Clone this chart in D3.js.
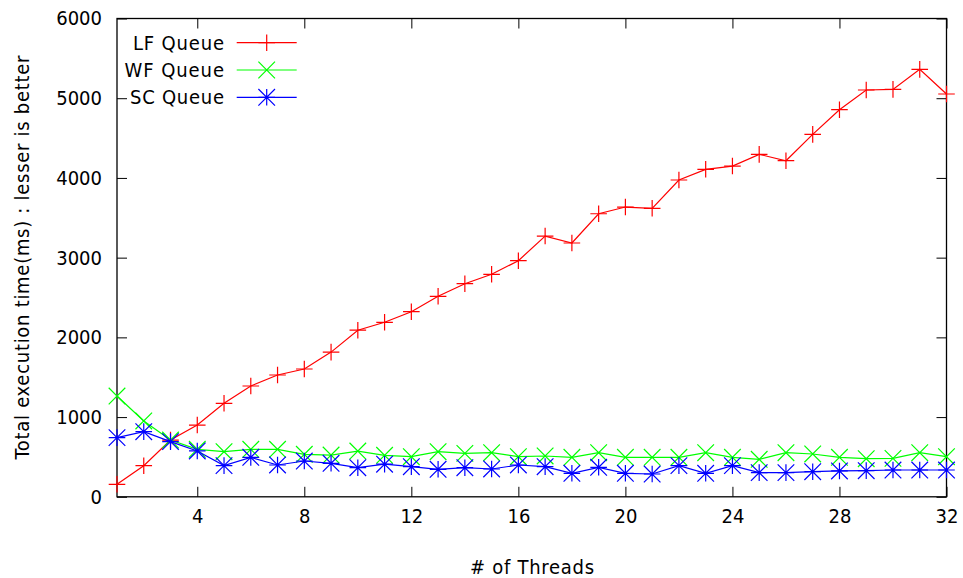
<!DOCTYPE html>
<html>
<head>
<meta charset="utf-8">
<script src="https://cdn.jsdelivr.net/npm/d3@7"></script>
<style>
  html, body { margin: 0; padding: 0; background: #fff; }
  svg { display: block; }
  text { font-family: "DejaVu Sans Condensed", "DejaVu Sans", sans-serif; font-stretch: condensed; fill: #000; }
</style>
</head>
<body>
<svg id="chart" width="963" height="578"></svg>
<script>
// Number of threads on the x axis
const threads = d3.range(1, 33);

// Total execution time (ms) per queue implementation
const lfQueue = [157, 390, 712, 900, 1173, 1390, 1528, 1603, 1815, 2090, 2189, 2322,
  2515, 2673, 2791, 2962, 3271, 3184, 3551, 3635, 3619, 3974, 4108, 4149,
  4296, 4216, 4547, 4856, 5103, 5111, 5362, 5053];
const wfQueue = [1264, 952, 712, 596, 566, 596, 596, 533, 524, 574, 520, 503,
  566, 545, 553, 503, 512, 495, 553, 495, 495, 495, 553, 495,
  470, 553, 537, 495, 478, 482, 553, 503];
const scQueue = [742, 817, 692, 575, 391, 495, 399, 449, 420, 365, 409, 378,
  345, 365, 349, 399, 378, 295, 370, 295, 286, 391, 295, 391,
  303, 303, 315, 324, 328, 336, 336, 336];

const xTicks = [4, 8, 12, 16, 20, 24, 28, 32];
const yTicks = [0, 1000, 2000, 3000, 4000, 5000, 6000];

const series = [
  { name: "LF Queue", values: lfQueue, color: "#ff0000", marker: "plus", labelWidth: 91 },
  { name: "WF Queue", values: wfQueue, color: "#00ff00", marker: "cross", labelWidth: 99.5 },
  { name: "SC Queue", values: scQueue, color: "#0000ff", marker: "star", labelWidth: 94 }
];

const svg = d3.select("#chart");
const plotLeft = 117, plotRight = 946.5, plotTop = 18.5, plotBottom = 496.8;

const x = d3.scaleLinear().domain([1, 32]).range([plotLeft, plotRight]);
const y = d3.scaleLinear().domain([0, 6000]).range([plotBottom, plotTop]);

const fontSize = 20;
const tickLen = 10;

// Axes with inward ticks, mirrored on the opposite sides
const gx = svg.append("g").attr("transform", `translate(0,${plotBottom})`)
  .call(d3.axisBottom(x).tickValues(xTicks).tickSize(-tickLen).tickPadding(tickLen + 12).tickFormat(d3.format("d")));
const gxt = svg.append("g").attr("transform", `translate(0,${plotTop})`)
  .call(d3.axisTop(x).tickValues(xTicks).tickSize(-tickLen).tickFormat(""));
const gy = svg.append("g").attr("transform", `translate(${plotLeft},0)`)
  .call(d3.axisLeft(y).tickValues(yTicks).tickSize(-tickLen).tickPadding(tickLen + 5).tickFormat(d3.format("d")));
const gyr = svg.append("g").attr("transform", `translate(${plotRight},0)`)
  .call(d3.axisRight(y).tickValues(yTicks).tickSize(-tickLen).tickFormat(""));

[gx, gxt, gy, gyr].forEach(g => {
  g.attr("font-family", null).attr("font-size", null);
  g.select(".domain").remove();
  g.selectAll(".tick line").attr("stroke", "#000").attr("stroke-width", 1);
  g.selectAll("text").attr("font-size", fontSize);
});
gx.selectAll("text").attr("dy", "0.2em");

// Plot border
svg.append("rect")
  .attr("x", plotLeft).attr("y", plotTop)
  .attr("width", plotRight - plotLeft).attr("height", plotBottom - plotTop)
  .attr("fill", "none").attr("stroke", "#000").attr("stroke-width", 1.3);

// Axis titles
svg.append("text")
  .attr("x", 532).attr("y", 574)
  .attr("text-anchor", "middle").attr("font-size", fontSize)
  .attr("textLength", 124).attr("lengthAdjust", "spacing")
  .text("# of Threads");
svg.append("text")
  .attr("transform", `translate(29,257.5) rotate(-90)`)
  .attr("text-anchor", "middle").attr("font-size", fontSize)
  .attr("textLength", 404).attr("lengthAdjust", "spacing")
  .text("Total execution time(ms) : lesser is better");

// Point markers
const ms = 8.3;
function markerPath(type, cx, cy) {
  const p = d3.path();
  if (type === "plus" || type === "star") {
    p.moveTo(cx - ms, cy); p.lineTo(cx + ms, cy);
    p.moveTo(cx, cy - ms); p.lineTo(cx, cy + ms);
  }
  if (type === "cross" || type === "star") {
    p.moveTo(cx - ms, cy - ms); p.lineTo(cx + ms, cy + ms);
    p.moveTo(cx - ms, cy + ms); p.lineTo(cx + ms, cy - ms);
  }
  return p.toString();
}

const line = d3.line().x((d, i) => x(threads[i])).y(d => y(d));

series.forEach(s => {
  const g = svg.append("g");
  g.append("path")
    .attr("d", line(s.values))
    .attr("fill", "none").attr("stroke", s.color).attr("stroke-width", 1.2);
  g.selectAll("path.pt").data(s.values).join("path")
    .attr("class", "pt")
    .attr("d", (d, i) => markerPath(s.marker, x(threads[i]), y(d)))
    .attr("fill", "none").attr("stroke", s.color).attr("stroke-width", 1.2);
});

// Legend
const legendRows = [42.7, 70, 97.3];
series.forEach((s, i) => {
  const ly = legendRows[i];
  svg.append("text")
    .attr("x", 224).attr("y", ly).attr("dy", "0.35em")
    .attr("text-anchor", "end").attr("font-size", fontSize)
    .attr("textLength", s.labelWidth).attr("lengthAdjust", "spacing")
    .text(s.name);
  svg.append("line")
    .attr("x1", 236.7).attr("x2", 296.7).attr("y1", ly).attr("y2", ly)
    .attr("stroke", s.color).attr("stroke-width", 1.2);
  svg.append("path")
    .attr("d", markerPath(s.marker, 266.7, ly))
    .attr("fill", "none").attr("stroke", s.color).attr("stroke-width", 1.2);
});
</script>
</body>
</html>
